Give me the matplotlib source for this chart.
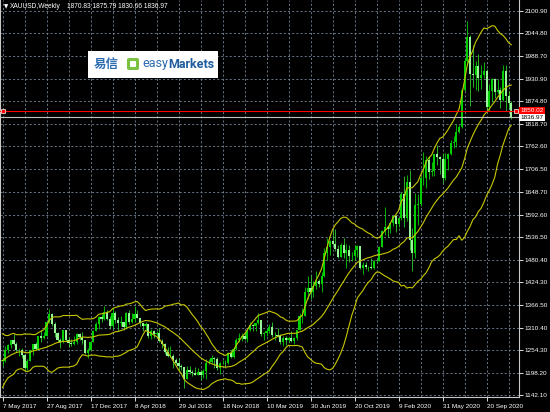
import numpy as np
import pandas as pd
import matplotlib
matplotlib.use("Agg")
import matplotlib.pyplot as plt
import matplotlib.transforms as mtransforms
from matplotlib.patches import Rectangle, FancyBboxPatch

# weekly XAUUSD bars, first bar = week of 7 May 2017
opens = [
    1228, 1228, 1254, 1267, 1280, 1271, 1254, 1256, 1242, 1209,
    1228, 1254, 1269, 1258, 1289, 1285, 1291, 1325, 1346, 1320,
    1297, 1280, 1274, 1304, 1280, 1272, 1269, 1274, 1294, 1287,
    1280, 1248, 1256, 1275, 1303, 1320, 1338, 1332, 1350, 1333,
    1316, 1347, 1330, 1322, 1324, 1313, 1347, 1325, 1332, 1345,
    1336, 1323, 1315, 1320, 1291, 1302, 1294, 1298, 1278, 1270,
    1251, 1241, 1241, 1231, 1223, 1214, 1212, 1184, 1206, 1201,
    1197, 1193, 1199, 1192, 1203, 1222, 1226, 1234, 1233, 1209,
    1222, 1223, 1222, 1248, 1238, 1257, 1281, 1285, 1290, 1282,
    1304, 1318, 1314, 1323, 1329, 1294, 1298, 1302, 1313, 1292,
    1292, 1290, 1276, 1286, 1280, 1286, 1277, 1284, 1305, 1341,
    1341, 1399, 1409, 1400, 1415, 1426, 1419, 1440, 1497, 1513,
    1527, 1520, 1506, 1488, 1516, 1497, 1504, 1489, 1490, 1505,
    1514, 1459, 1468, 1462, 1463, 1460, 1476, 1478, 1511, 1552,
    1562, 1557, 1571, 1589, 1570, 1584, 1643, 1585, 1674, 1530,
    1498, 1617, 1620, 1683, 1683, 1728, 1700, 1702, 1743, 1735,
    1730, 1684, 1730, 1743, 1771, 1774, 1798, 1811, 1902, 1975,
    2035, 1944, 1940, 1964, 1934, 1940, 1950, 1861, 1900, 1930,
    1899, 1902, 1879, 1951, 1889, 1870.83]
highs = [
    1236, 1264, 1270, 1281, 1296, 1275, 1260, 1260, 1244, 1233,
    1256, 1270, 1274, 1291, 1306, 1299, 1326, 1357, 1347, 1326,
    1300, 1284, 1306, 1306, 1287, 1283, 1290, 1297, 1298, 1299,
    1280, 1260, 1276, 1305, 1326, 1339, 1345, 1366, 1356, 1340,
    1361, 1352, 1337, 1340, 1326, 1349, 1355, 1347, 1365, 1354,
    1336, 1323, 1326, 1320, 1308, 1306, 1303, 1310, 1282, 1272,
    1262, 1265, 1245, 1236, 1235, 1220, 1213, 1214, 1214, 1206,
    1212, 1211, 1204, 1208, 1233, 1233, 1243, 1237, 1237, 1226,
    1230, 1229, 1250, 1254, 1262, 1284, 1298, 1297, 1298, 1304,
    1326, 1319, 1323, 1347, 1331, 1299, 1311, 1320, 1325, 1300,
    1311, 1295, 1289, 1289, 1288, 1303, 1287, 1306, 1347, 1359,
    1411, 1439, 1442, 1426, 1453, 1433, 1449, 1510, 1535, 1530,
    1555, 1557, 1517, 1522, 1535, 1520, 1517, 1500, 1518, 1517,
    1514, 1475, 1475, 1465, 1484, 1480, 1482, 1514, 1553, 1611,
    1563, 1575, 1590, 1592, 1585, 1649, 1689, 1692, 1704, 1560,
    1646, 1645, 1690, 1748, 1738, 1738, 1723, 1744, 1765, 1739,
    1745, 1745, 1745, 1779, 1789, 1818, 1815, 1907, 1984, 2075,
    2040, 2016, 1976, 1992, 1966, 1973, 1955, 1918, 1933, 1933,
    1931, 1911, 1965, 1965, 1900, 1875.79]
lows = [
    1214, 1226, 1247, 1259, 1268, 1250, 1240, 1236, 1205, 1204,
    1227, 1243, 1254, 1255, 1274, 1282, 1290, 1322, 1316, 1288,
    1276, 1261, 1272, 1278, 1262, 1264, 1268, 1271, 1281, 1270,
    1245, 1236, 1254, 1274, 1303, 1307, 1324, 1331, 1331, 1307,
    1311, 1322, 1303, 1316, 1305, 1308, 1321, 1323, 1326, 1334,
    1315, 1302, 1304, 1285, 1282, 1286, 1289, 1275, 1261, 1245,
    1238, 1237, 1211, 1220, 1204, 1205, 1160, 1183, 1196, 1191,
    1192, 1193, 1180, 1185, 1183, 1221, 1223, 1211, 1206, 1196,
    1220, 1211, 1220, 1236, 1236, 1256, 1275, 1278, 1280, 1276,
    1302, 1303, 1302, 1320, 1291, 1281, 1290, 1297, 1287, 1281,
    1288, 1271, 1266, 1267, 1276, 1275, 1269, 1279, 1305, 1322,
    1339, 1383, 1382, 1387, 1406, 1412, 1400, 1437, 1480, 1492,
    1517, 1503, 1484, 1486, 1485, 1460, 1474, 1478, 1480, 1487,
    1456, 1445, 1456, 1452, 1458, 1456, 1472, 1476, 1511, 1541,
    1536, 1546, 1563, 1548, 1562, 1580, 1562, 1576, 1504, 1451,
    1484, 1567, 1613, 1667, 1659, 1681, 1688, 1690, 1717, 1693,
    1671, 1680, 1705, 1742, 1758, 1760, 1795, 1809, 1900, 1965,
    1863, 1911, 1902, 1901, 1906, 1933, 1848, 1851, 1873, 1883,
    1894, 1859, 1877, 1850, 1855, 1830.66]
closes = [
    1228, 1254, 1267, 1280, 1271, 1254, 1256, 1242, 1209, 1228,
    1254, 1269, 1258, 1289, 1285, 1291, 1325, 1346, 1320, 1297,
    1280, 1274, 1304, 1280, 1272, 1269, 1274, 1294, 1287, 1280,
    1248, 1256, 1275, 1303, 1320, 1338, 1332, 1350, 1333, 1316,
    1347, 1330, 1322, 1324, 1313, 1347, 1325, 1332, 1345, 1336,
    1323, 1315, 1320, 1291, 1302, 1294, 1298, 1278, 1270, 1251,
    1241, 1241, 1231, 1223, 1214, 1212, 1184, 1206, 1201, 1197,
    1193, 1199, 1192, 1203, 1222, 1226, 1234, 1233, 1209, 1222,
    1223, 1222, 1248, 1238, 1257, 1281, 1285, 1290, 1282, 1304,
    1318, 1314, 1323, 1329, 1294, 1298, 1302, 1313, 1292, 1292,
    1290, 1276, 1286, 1280, 1286, 1277, 1284, 1305, 1341, 1341,
    1399, 1409, 1400, 1415, 1426, 1419, 1440, 1497, 1513, 1527,
    1520, 1506, 1488, 1516, 1497, 1504, 1489, 1490, 1505, 1514,
    1459, 1468, 1462, 1463, 1460, 1476, 1478, 1511, 1552, 1562,
    1557, 1571, 1589, 1570, 1584, 1643, 1585, 1674, 1530, 1498,
    1617, 1620, 1683, 1683, 1728, 1700, 1702, 1743, 1735, 1730,
    1684, 1730, 1743, 1771, 1774, 1798, 1811, 1902, 1975, 2035,
    1944, 1940, 1964, 1934, 1940, 1950, 1861, 1900, 1930, 1899,
    1902, 1879, 1951, 1889, 1871, 1836.97]
# closes of the 19 weeks before the first visible bar (needed for the bands)
pre_closes = [1152, 1173, 1196, 1210, 1191, 1220, 1234, 1239, 1257, 1226,
              1202, 1229, 1243, 1249, 1254, 1285, 1284, 1268, 1228]

price_ticks = [2100.90, 2044.80, 1988.70, 1930.90, 1874.80, 1818.70, 1762.60,
               1706.50, 1648.70, 1592.60, 1536.50, 1480.40, 1424.30, 1366.50,
               1310.40, 1254.30, 1198.20, 1142.10]
date_labels = ["7 May 2017", "27 Aug 2017", "17 Dec 2017", "8 Apr 2018",
               "29 Jul 2018", "18 Nov 2018", "10 Mar 2019", "30 Jun 2019",
               "20 Oct 2019", "9 Feb 2020", "31 May 2020", "20 Sep 2020"]
ask_price = 1850.02
bid_price = 1836.97

W, H = 550, 412
fig = plt.figure(figsize=(W / 100, H / 100), dpi=100, facecolor="black")
ax = fig.add_axes([0, 15 / H, 519 / W, 397 / H])
ax.set_facecolor("black")

n = len(closes)
x = np.arange(n)
o = np.array(opens); h = np.array(highs); l = np.array(lows); c = np.array(closes)

# bollinger bands (20, 2)
s = pd.Series(pre_closes + closes)
mid = s.rolling(20).mean().values[-n:]
sd = s.rolling(20).std(ddof=0).values[-n:]

grid_kw = dict(color="#778899", lw=0.6, dashes=(2.5, 2.5), zorder=0)
for p in price_ticks:
    ax.axhline(p, **grid_kw)
for k in range(0, n, 8):
    ax.axvline(k, **grid_kw)

up = c >= o
bull_col = "#00d000"
bear_col = "#98f598"
ax.vlines(x[up], l[up], h[up], color=bull_col, lw=0.6, zorder=2)
ax.vlines(x[~up], l[~up], h[~up], color="#30d030", lw=0.6, zorder=2)
ax.bar(x[up], np.maximum(c[up] - o[up], 1), bottom=o[up], width=0.75,
       color=bull_col, lw=0, zorder=3)
ax.bar(x[~up], np.maximum(o[~up] - c[~up], 1), bottom=c[~up], width=0.75,
       color=bear_col, lw=0, zorder=3)

band_col = "#c8c800"
for line in (mid + 2 * sd, mid, mid - 2 * sd):
    ax.plot(x, line, color=band_col, lw=0.8, zorder=4)

ax.axhline(ask_price, color="#ff0000", lw=0.8, zorder=5)
ax.axhline(bid_price, color="#c0c0c0", lw=0.8, zorder=5)

ax.set_xlim(-0.91, 187.8)
ax.set_ylim(1137.9, 2127.6)

ax.yaxis.tick_right()
ax.set_yticks(price_ticks)
ax.set_yticklabels(["%.2f" % p for p in price_ticks])
ax.set_xticks(np.arange(0, n, 16)[:len(date_labels)])
ax.set_xticklabels(date_labels, ha="left")
ax.tick_params(colors="white", labelsize=4.6, length=3, width=0.6, pad=1)
ax.tick_params(axis="x", pad=2)
for lab in ax.get_xticklabels() + ax.get_yticklabels():
    lab.set_fontfamily("Liberation Sans")
for side in ("right", "bottom", "left"):
    ax.spines[side].set_color("#c8c8c8")
    ax.spines[side].set_linewidth(0.8)
ax.spines["top"].set_visible(False)

# price labels on the axis
tr = mtransforms.blended_transform_factory(ax.transAxes, ax.transData)
ax.text(1.003, ask_price + 3, "%.2f" % ask_price, transform=tr, color="white",
        fontsize=4.6, family="Liberation Sans", va="center", ha="left", clip_on=False,
        bbox=dict(fc="#ff0000", ec="none", pad=0.8), zorder=6)
ax.text(1.003, bid_price - 3, "%.2f" % bid_price, transform=tr, color="black",
        fontsize=4.6, family="Liberation Sans", va="center", ha="left", clip_on=False,
        bbox=dict(fc="white", ec="none", pad=0.8), zorder=7)
ax.plot([0.995], [ask_price], transform=tr, marker="s", ms=2.5, mfc="#ff0000",
        mec="white", mew=0.5, clip_on=False, zorder=8)
ax.plot([0.005], [ask_price], transform=tr, marker="s", ms=2.5, mfc="#ff0000",
        mec="white", mew=0.5, clip_on=False, zorder=8)

# header
fig.text(4 / W, 1 - 7 / H, "\u25bc", color="white", fontsize=4, va="center",
         family="DejaVu Sans")
fig.text(10 / W, 1 - 7 / H, "XAUUSD,Weekly", color="white", fontsize=4.8,
         va="center", family="Liberation Sans")
fig.text(67 / W, 1 - 7 / H, "1870.83 1875.79 1830.66 1836.97", color="white",
         fontsize=4.8, va="center", family="Liberation Sans")

# logo
fig.patches.append(Rectangle((88 / W, 1 - 78 / H), 130 / W, 27 / H,
                             transform=fig.transFigure, fc="white", ec="none"))
blue = "#2d6bb0"
fig.text(94 / W, 1 - 64 / H, "易信", color=blue, fontsize=9, va="center",
         family=["Noto Sans CJK SC", "DejaVu Sans"], weight="bold")
fig.patches.append(FancyBboxPatch((127 / W, 1 - 70 / H), 12 / W, 12 / H,
                                  boxstyle="round,pad=0,rounding_size=0.004",
                                  transform=fig.transFigure, fc="#7cc242", ec="none"))
fig.patches.append(FancyBboxPatch((130 / W, 1 - 67 / H), 6 / W, 6 / H,
                                  boxstyle="round,pad=0,rounding_size=0.002",
                                  transform=fig.transFigure, fc="white", ec="none"))
t1 = fig.text(142 / W, 1 - 64 / H, "easy", color=blue, fontsize=9, va="center",
              family="Roboto")
r = fig.canvas.get_renderer()
bb = t1.get_window_extent(r)
fig.text(bb.x1 / W, 1 - 64 / H, "Markets", color="#1f5c9e", fontsize=9,
         va="center", family="Roboto", weight="bold")

fig.savefig("out.png", dpi=100, facecolor="black")
